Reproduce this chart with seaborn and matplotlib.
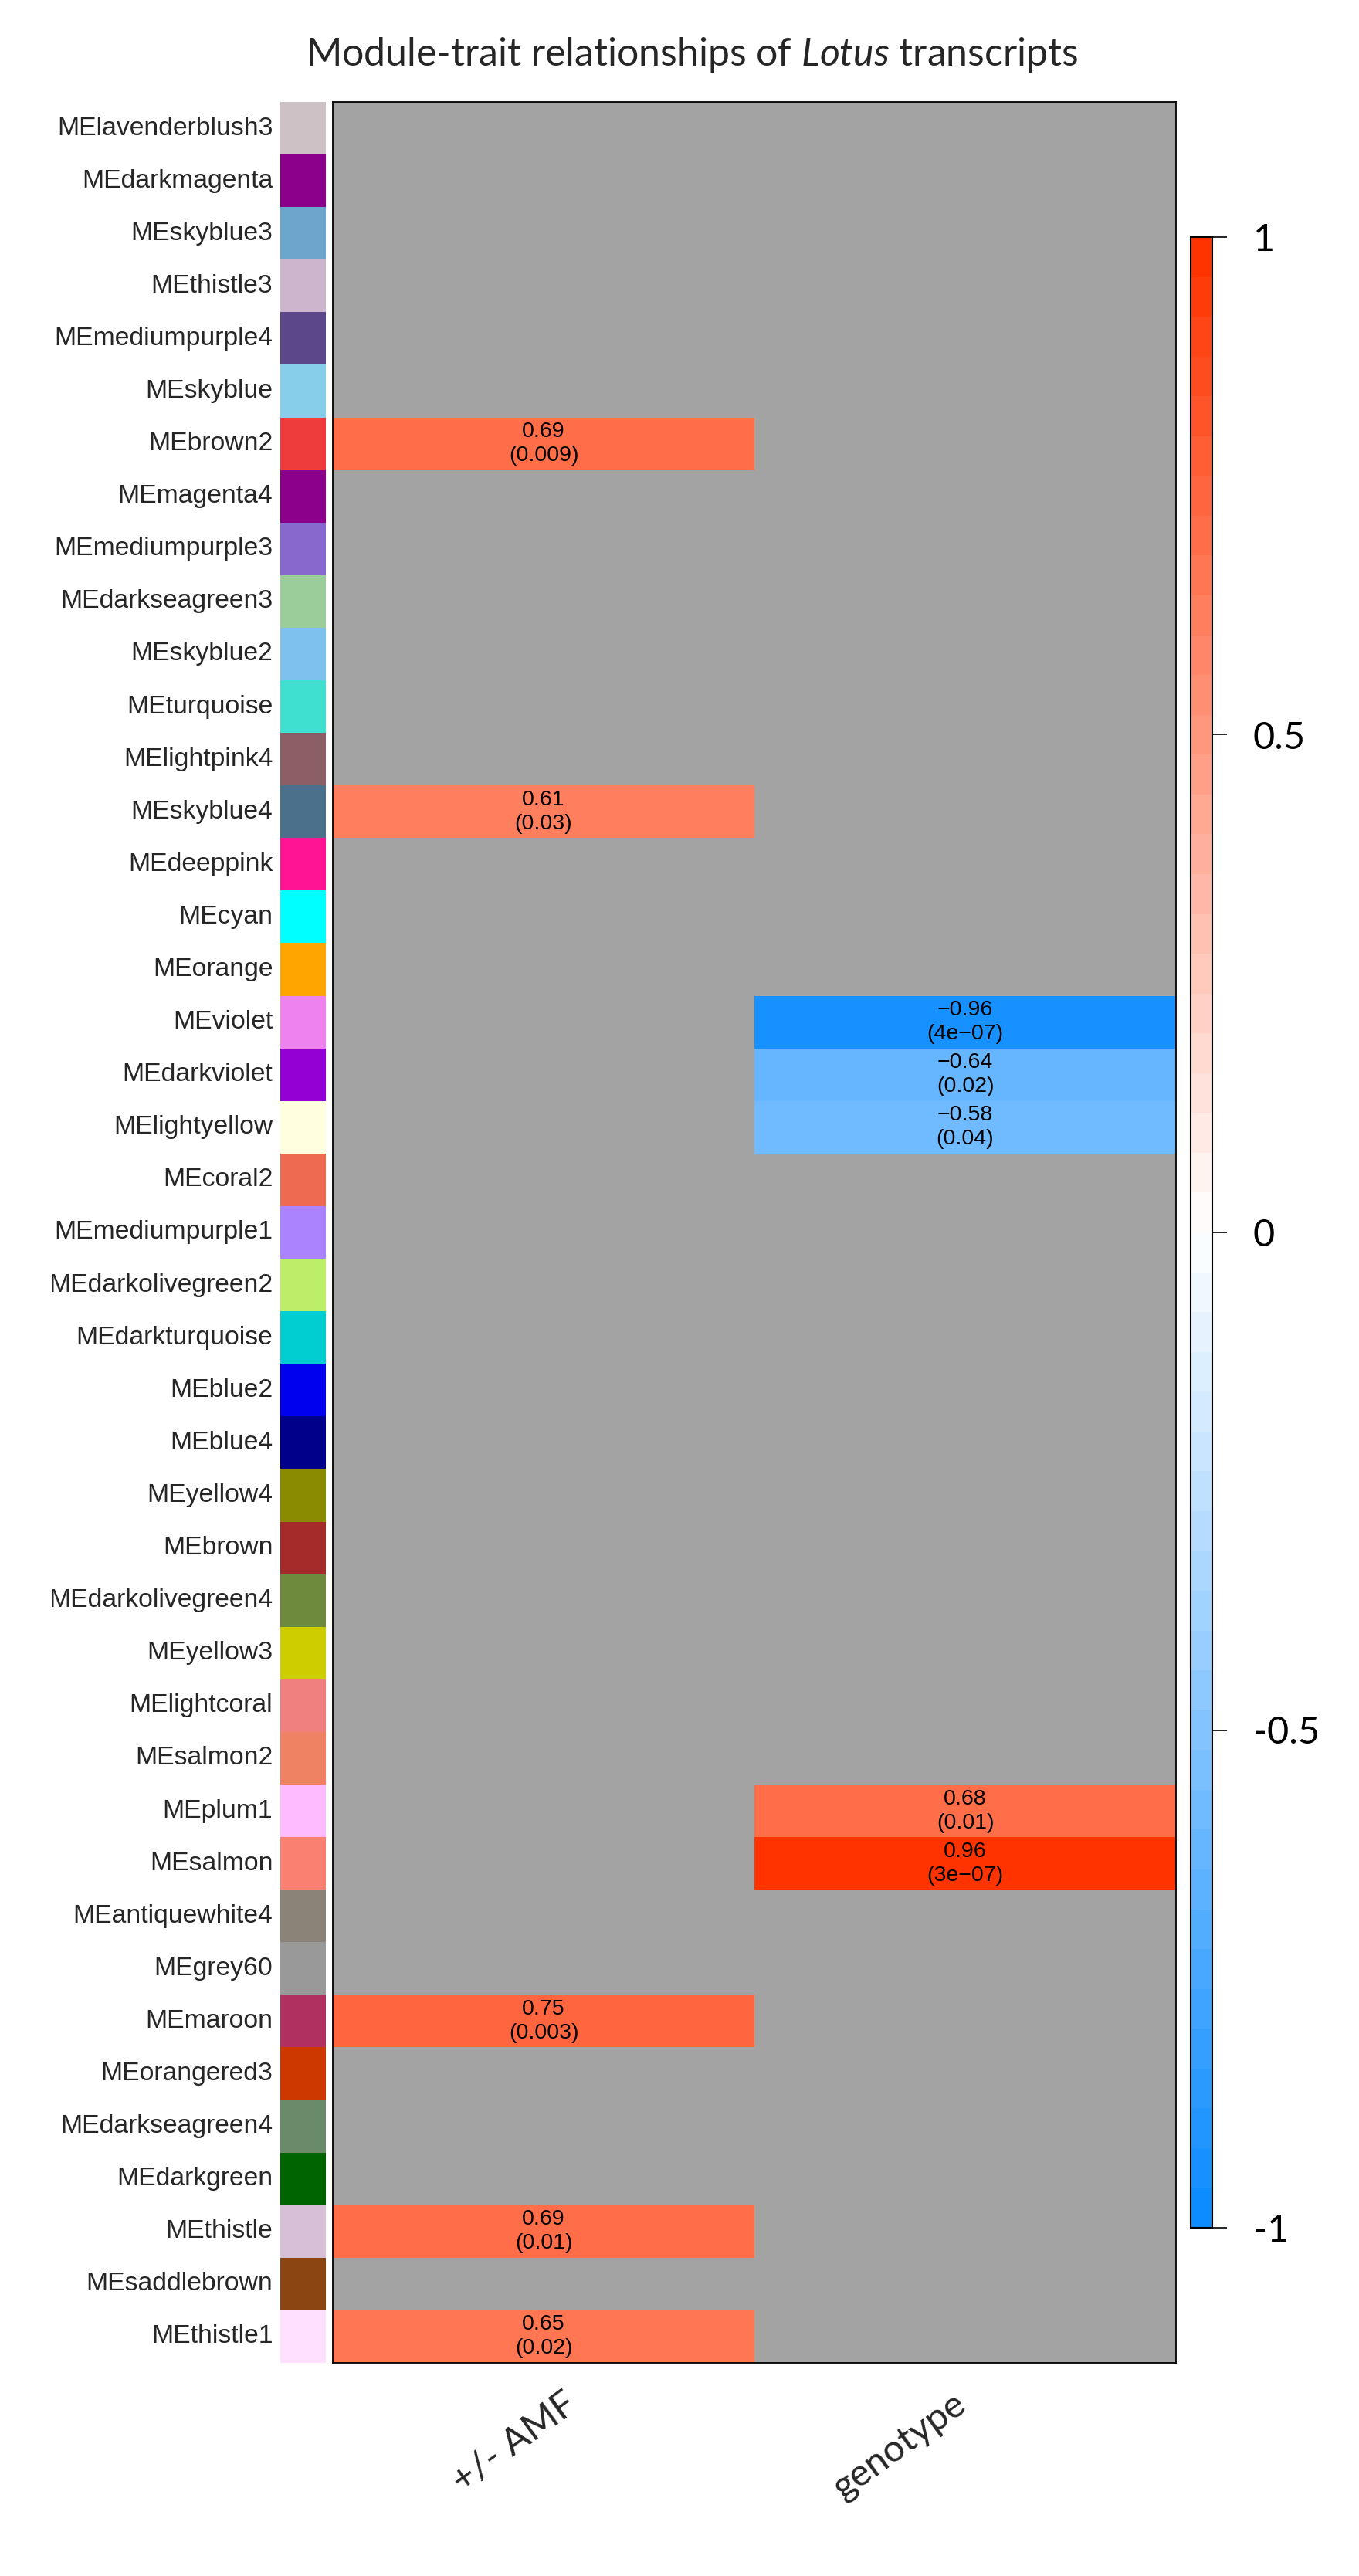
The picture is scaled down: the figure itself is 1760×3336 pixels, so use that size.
import numpy as np
import pandas as pd
import matplotlib
matplotlib.use("Agg")
import matplotlib.pyplot as plt
import seaborn as sns
from matplotlib.colors import LinearSegmentedColormap, ListedColormap
from matplotlib.transforms import Bbox, TransformedBbox, ScaledTranslation

# ---------------- data ----------------
modules = ["lavenderblush3", "darkmagenta", "skyblue3", "thistle3", "mediumpurple4",
           "skyblue", "brown2", "magenta4", "mediumpurple3", "darkseagreen3",
           "skyblue2", "turquoise", "lightpink4", "skyblue4", "deeppink", "cyan",
           "orange", "violet", "darkviolet", "lightyellow", "coral2", "mediumpurple1",
           "darkolivegreen2", "darkturquoise", "blue2", "blue4", "yellow4", "brown",
           "darkolivegreen4", "yellow3", "lightcoral", "salmon2", "plum1", "salmon",
           "antiquewhite4", "grey60", "maroon", "orangered3", "darkseagreen4",
           "darkgreen", "thistle", "saddlebrown", "thistle1"]
module_colors = ["#CDC1C5", "#8B008B", "#6CA6CD", "#CDB5CD", "#5D478B",
                 "#87CEEB", "#EE3B3B", "#8B008B", "#8968CD", "#9BCD9B",
                 "#7EC0EE", "#40E0D0", "#8B5F65", "#4A708B", "#FF1493", "#00FFFF",
                 "#FFA500", "#EE82EE", "#9400D3", "#FFFFE0", "#EE6A50", "#AB82FF",
                 "#BCEE68", "#00CED1", "#0000EE", "#00008B", "#8B8B00", "#A52A2A",
                 "#6E8B3D", "#CDCD00", "#F08080", "#EE8262", "#FFBBFF", "#FA8072",
                 "#8B8378", "#999999", "#B03060", "#CD3700", "#698B69",
                 "#006400", "#D8BFD8", "#8B4513", "#FFE1FF"]
traits = ["+/- AMF", "genotype"]

amf_modules = ["brown2", "skyblue4", "maroon", "thistle", "thistle1"]
amf_r = [0.69, 0.61, 0.75, 0.69, 0.65]
amf_p = ["0.009", "0.03", "0.003", "0.01", "0.02"]

geno_modules = ["violet", "darkviolet", "lightyellow", "plum1", "salmon"]
geno_r = [-0.96, -0.64, -0.58, 0.68, 0.96]
geno_p = ["4e-07", "0.02", "0.04", "0.01", "3e-07"]

cbar_ticks = [1, 0.5, 0, -0.5, -1]
cbar_ticklabels = ["1", "0.5", "0", "-0.5", "-1"]

# ---------------- tables ----------------
labels = ["ME" + m for m in modules]
r_df = pd.DataFrame(np.nan, index=labels, columns=traits)
annot = pd.DataFrame("", index=labels, columns=traits)
for trait, mods, rs, ps in [(traits[0], amf_modules, amf_r, amf_p),
                            (traits[1], geno_modules, geno_r, geno_p)]:
    for m, r, p in zip(mods, rs, ps):
        r_df.loc["ME" + m, trait] = r
        annot.loc["ME" + m, trait] = (f"{r:.2f}\n({p})").replace("-", "\u2212")

# ---------------- style ----------------
sns.set_theme(style="white")
plt.rcParams["font.family"] = ["Liberation Sans", "DejaVu Sans"]
plt.rcParams["mathtext.fontset"] = "custom"
plt.rcParams["mathtext.rm"] = "Lato"
plt.rcParams["mathtext.it"] = "Lato:italic"

W, H = 1760, 3336
fig = plt.figure(figsize=(W / 100, H / 100), dpi=100)


def rect(l, t, r, b):
    return [l / W, 1 - b / H, (r - l) / W, (b - t) / H]


ax = fig.add_axes(rect(431, 132, 1523, 3060))
sax = fig.add_axes(rect(363, 132, 422, 3060))
cax = fig.add_axes(rect(1542, 307, 1570, 2885))

cmap = LinearSegmentedColormap.from_list(
    "wgcna_bwr", [(0.05, 0.55, 1.0), (1, 1, 1), (1.0, 0.2, 0.0)], N=50)

ax.set_facecolor("#A3A3A3")
sns.heatmap(r_df, mask=r_df.isna(), cmap=cmap, vmin=-1, vmax=1,
            annot=annot.values, fmt="",
            annot_kws=dict(color="black", fontsize=20.5, linespacing=1.25,
                           family=["Liberation Sans", "DejaVu Sans"]),
            cbar_ax=cax, cbar_kws=dict(ticks=cbar_ticks),
            yticklabels=False, ax=ax)
for s in ax.spines.values():
    s.set_visible(True)
    s.set_color("black")
    s.set_linewidth(1.3)

# x labels
ax.set_xticklabels(traits, rotation=36, ha="right", va="top",
                   rotation_mode="anchor", fontsize=35, family="Lato")
ax.tick_params(axis="x", length=0, pad=22, bottom=False)
for t, dx in zip(ax.get_xticklabels(), [25, -17]):
    t.set_transform(t.get_transform() + ScaledTranslation(dx / 100, 0, fig.dpi_scale_trans))

# module colour strip
strip_vals = np.arange(len(modules)).reshape(-1, 1)
sns.heatmap(strip_vals, cmap=ListedColormap(module_colors), cbar=False,
            xticklabels=False, yticklabels=labels, ax=sax)
sax.tick_params(axis="y", length=0, pad=7, labelsize=24.3, left=False)
clip = TransformedBbox(Bbox([[67 / W, 0], [1, 1]]), fig.transFigure)
for t in sax.get_yticklabels():
    t.set_rotation(0)
    t.set_family(["Liberation Sans", "DejaVu Sans"])
    t.set_clip_on(True)
    t.set_clip_box(clip)

# colourbar
cb = ax.collections[0].colorbar
cb.outline.set_visible(True)
cb.outline.set_linewidth(1.5)
cb.outline.set_edgecolor("black")
cb.set_ticks(cbar_ticks)
cb.set_ticklabels(cbar_ticklabels)
cax.tick_params(axis="y", right=True, left=False, labelright=True,
                length=14, width=1.2, pad=24, labelsize=35, colors="black")
for t in cax.get_yticklabels():
    t.set_family("Lato")

fig.text(896 / W, 1 - 71 / H,
         r"Module-trait relationships of $\mathit{Lotus}$ transcripts",
         ha="center", va="center", fontsize=36, family="Lato")

fig.savefig("out.png", dpi=100)
